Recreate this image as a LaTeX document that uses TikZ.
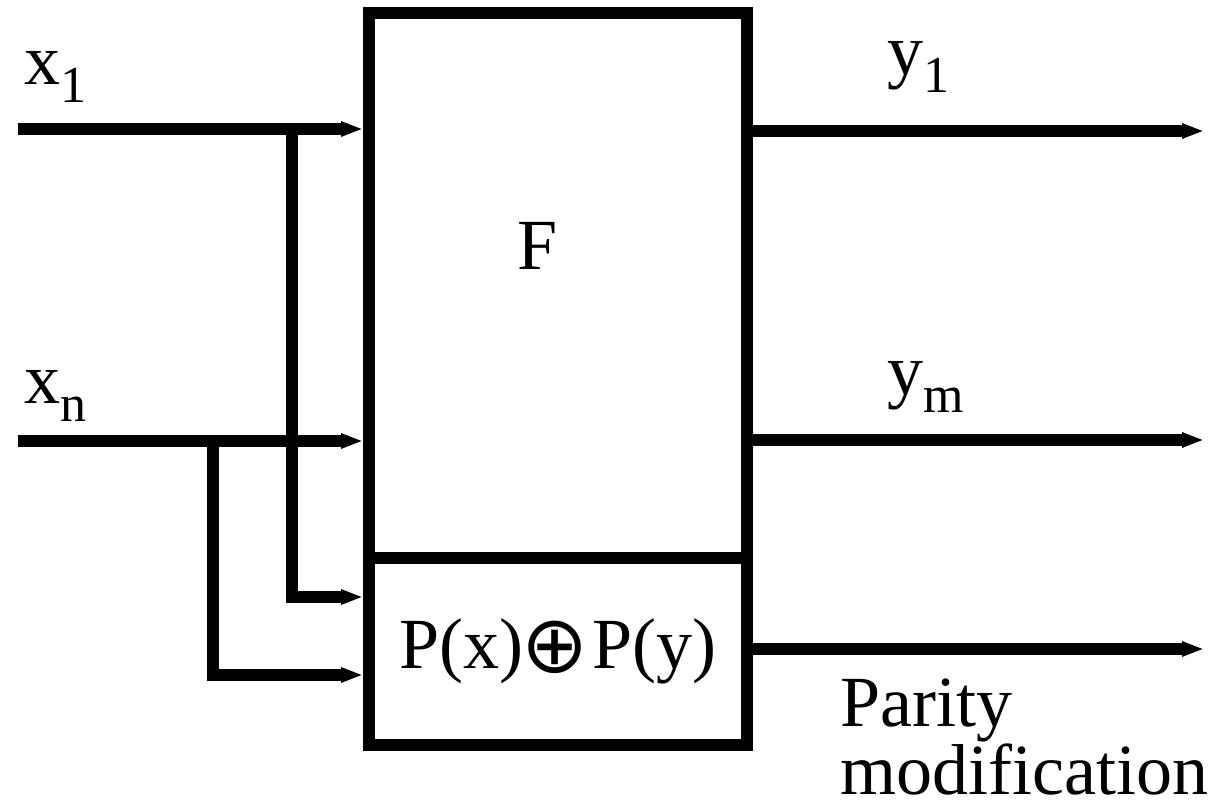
\documentclass[tikz,border=0pt]{standalone}
\usepackage{fontspec}
\setmainfont{Liberation Serif}
\newfontfamily\opfont{DejaVu Sans}
\usetikzlibrary{arrows.meta}
\newcommand\idx[1]{\raisebox{-18pt}{\fontsize{52}{52}\selectfont #1}}
\begin{document}
\begin{tikzpicture}[x=1pt,y=-1pt,every node/.style={font=\fontsize{72}{66}\selectfont},
  wire/.style={line width=11.5pt},
  sig/.style={wire,-{Triangle[length=22pt,width=14pt]}},
  blk/.style={draw,line width=12pt,minimum width=378pt,inner sep=0pt,outer sep=6pt}]
\useasboundingbox (0,0) rectangle (1216,802);
\node[blk,minimum height=545pt] (F) at (558,285.5) {};
\node[blk,minimum height=187pt] (P) at (558,651.5) {P(x)\kern-2pt\raisebox{-4pt}{\fontsize{80}{80}\opfont ⊕}\kern4pt P(y)};
\node[anchor=base] (Flbl) at (538,270) {F};
\coordinate (in1) at (18,129);
\coordinate (inn) at (18,441);
\coordinate (b1) at (292,129);
\coordinate (bn) at (213,441);
\coordinate (out1) at (1204,131);
\coordinate (outm) at (1204,440);
\coordinate (outp) at (1204,649);
\draw[sig] (in1) -- (in1 -| F.west);
\draw[sig] (inn) -- (inn -| F.west);
\draw[sig] (b1) -- (292,597) -- (P.west |- 0,597);
\draw[sig] (bn) -- (213,675) -- (P.west |- 0,675);
\draw[sig] (F.east |- out1) -- (out1);
\draw[sig] (F.east |- outm) -- (outm);
\draw[sig] (P.east |- outp) -- (outp);
\node[anchor=base west] (x1) at (21,85) {x\idx{1}};
\node[anchor=base west] (xn) at (21,403) {x\idx{n}};
\node[anchor=base west] (y1) at (884,75) {y\idx{1}};
\node[anchor=base west] (ym) at (884,395) {y\idx{m}};
\node[anchor=base west,align=left,inner sep=0pt] (par) at (840,794) {Parity\\modification};
\end{tikzpicture}
\end{document}
